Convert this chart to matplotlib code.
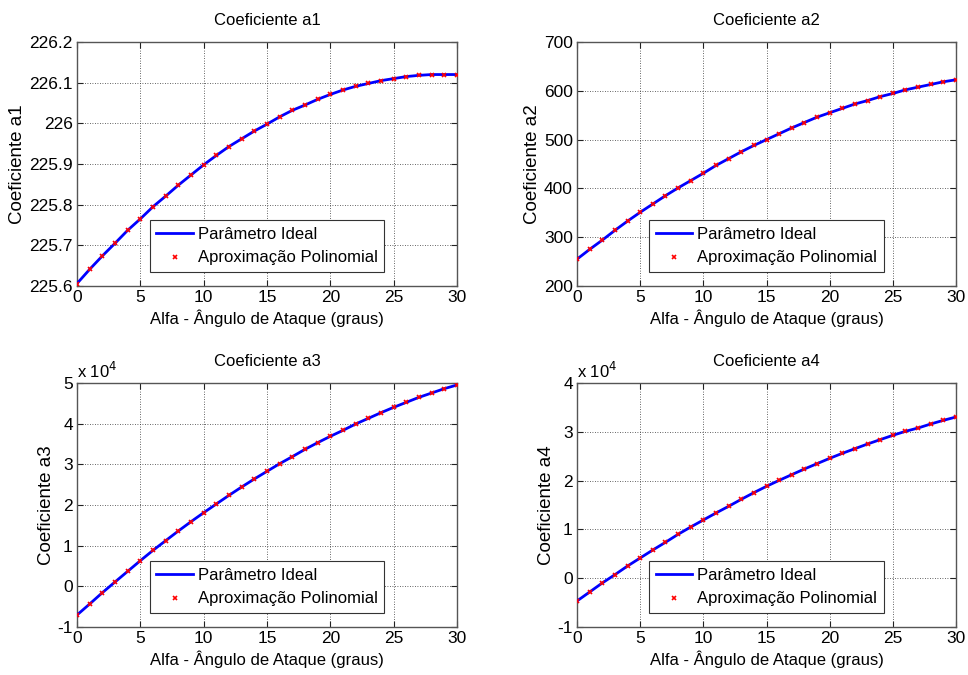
import matplotlib
matplotlib.use("Agg")
import matplotlib.pyplot as plt
from matplotlib.ticker import FuncFormatter, MultipleLocator

plt.rcParams['font.family'] = ['Liberation Sans', 'DejaVu Sans']

alfa = list(range(0, 31))

a1 = [225.606, 225.641, 225.674, 225.705, 225.737, 225.765, 225.795, 225.821,
      225.848, 225.873, 225.898, 225.921, 225.943, 225.962, 225.981, 225.998,
      226.016, 226.032, 226.045, 226.059, 226.071, 226.082, 226.091, 226.098,
      226.105, 226.110, 226.115, 226.118, 226.120, 226.120, 226.120]

a2 = [255, 275, 294, 314, 333, 351, 368, 385, 401, 416, 431, 447, 461, 475,
      488, 500, 512, 524, 535, 546, 555, 564, 573, 580, 588, 594.5, 602,
      607.5, 613, 618.5, 622.6]

a3 = [-7050, -4340, -1560, 1070, 3690, 6310, 8850, 11230, 13610, 15900,
      18110, 20250, 22380, 24430, 26400, 28280, 30160, 31890, 33690, 35330,
      36890, 38360, 39920, 41310, 42700, 44020, 45250, 46480, 47540, 48610,
      49510]

a4 = [-4670, -2830, -980, 720, 2500, 4140, 5780, 7350, 8990, 10490, 11930,
      13360, 14730, 16160, 17530, 18830, 20050, 21220, 22380, 23470, 24560,
      25590, 26540, 27500, 28390, 29280, 30100, 30780, 31600, 32350, 33030]

titles = ['Coeficiente a1', 'Coeficiente a2', 'Coeficiente a3', 'Coeficiente a4']
ylabels = ['Coeficiente a1', 'Coeficiente a2', 'Coeficiente a3', 'Coeficiente a4']
xlabel = 'Alfa - Ângulo de Ataque (graus)'
legend_labels = ['Parâmetro Ideal', 'Aproximação Polinomial']
ylims = [(225.6, 226.2), (200, 700), (-10000, 50000), (-10000, 40000)]
ysteps = [0.1, 100, 10000, 10000]
yscale = [1, 1, 1e4, 1e4]
series = [a1, a2, a3, a4]

fig = plt.figure(figsize=(9.68, 6.75), dpi=100)
W, H = 968, 675
boxes = [(77, 42, 457, 286), (577, 42, 956, 286),
         (77, 383, 457, 627), (577, 383, 956, 627)]

fs = 12
for i in range(4):
    l, t, r, b = boxes[i]
    ax = fig.add_axes([l / W, 1 - b / H, (r - l) / W, (b - t) / H])
    ax.plot(alfa, series[i], color='#0000ff', lw=2, label=legend_labels[0], zorder=3)
    ax.plot(alfa, series[i], ls='none', marker='x', color='#ff0000', ms=3.5,
            mew=1.2, label=legend_labels[1], zorder=4)
    ax.set_xlim(0, 30)
    ax.set_ylim(*ylims[i])
    ax.xaxis.set_major_locator(MultipleLocator(5))
    ax.yaxis.set_major_locator(MultipleLocator(ysteps[i]))
    sc = yscale[i]
    ax.yaxis.set_major_formatter(FuncFormatter(lambda v, p, sc=sc: '%g' % round(v / sc, 6)))
    ax.xaxis.set_major_formatter(FuncFormatter(lambda v, p: '%g' % v))
    ax.grid(True, ls=(0, (1, 2)), color='#333333', lw=0.6)
    ax.tick_params(direction='in', top=True, right=True, length=4,
                   labelsize=fs + 0.5, colors='#222222', labelcolor='black', pad=3)
    for s in ax.spines.values():
        s.set_color('#555555')
        s.set_linewidth(1.0)
    ax.set_title(titles[i], fontsize=fs, pad=12)
    ax.set_xlabel(xlabel, fontsize=fs, labelpad=3)
    ax.set_ylabel(ylabels[i], fontsize=13.5, labelpad=2)
    if sc != 1:
        ax.text(0.0, 1.01, r'x 10$^{4}$', transform=ax.transAxes, fontsize=fs,
                ha='left', va='bottom')
    leg = ax.legend(loc='lower center', bbox_to_anchor=(0.5, 0.057),
                    borderaxespad=0, fontsize=fs, fancybox=False,
                    framealpha=1, edgecolor='#333333', handlelength=2.2,
                    handletextpad=0.3, borderpad=0.4, labelspacing=0.5)
    leg.get_frame().set_linewidth(0.8)

fig.savefig('out.png', dpi=100)
